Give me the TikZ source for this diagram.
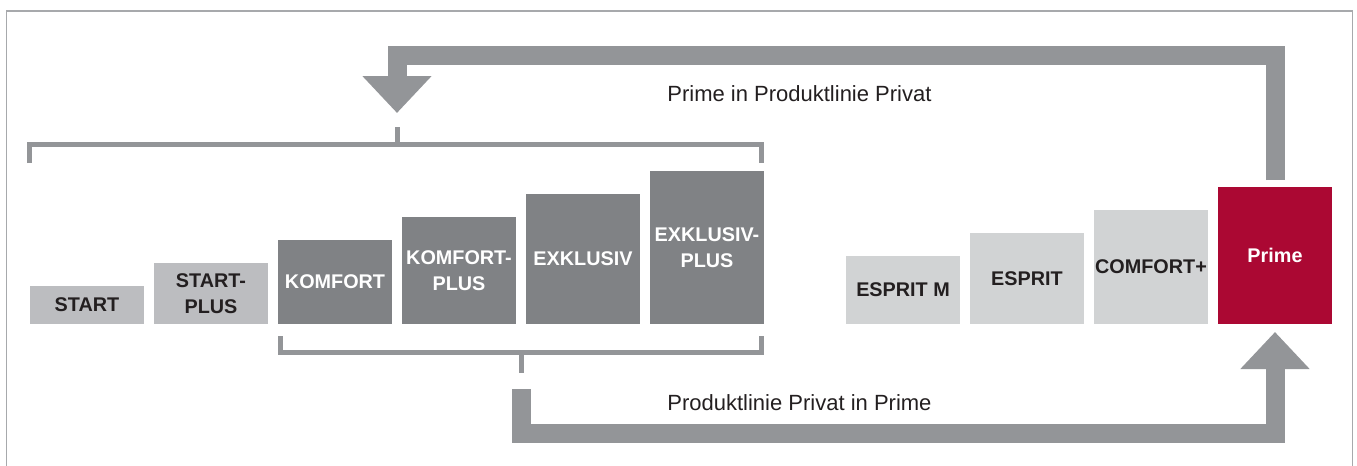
\documentclass[tikz,border=0pt]{standalone}
\usepackage{fontspec}
\setmainfont{Liberation Sans}
\usetikzlibrary{arrows.meta}

\definecolor{pfeilgrau}{RGB}{147,149,152}
\definecolor{rahmengrau}{RGB}{167,169,172}
\definecolor{hellgrau}{RGB}{188,189,192}
\definecolor{dunkelgrau}{RGB}{128,130,133}
\definecolor{blassgrau}{RGB}{209,211,212}
\definecolor{primerot}{RGB}{171,8,51}
\definecolor{schrift}{RGB}{35,31,32}

\begin{document}
\begin{tikzpicture}[x=0.5pt, y=-0.5pt,
    tarif/.style={anchor=south west, minimum width=57pt, inner sep=0pt, outer sep=0pt,
      align=center, font=\bfseries\fontsize{9.9}{13.2}\selectfont},
    hell/.style={tarif, fill=hellgrau, text=schrift},
    dunkel/.style={tarif, fill=dunkelgrau, text=white},
    blass/.style={tarif, fill=blassgrau, text=schrift},
    klammer/.style={draw=pfeilgrau, line width=2.5pt},
    pfeil/.style={draw=pfeilgrau, line width=9.5pt, -{Triangle[length=18.5pt, width=33.5pt]}},
    beschriftung/.style={anchor=base west, inner sep=0pt, text=schrift,
      font=\fontsize{11}{13}\selectfont}]
  \useasboundingbox (0,0) rectangle (1357,466);
  \draw[rahmengrau, line width=0.6pt] (6.5,470) |- (1352.5,11) -- (1352.5,470);

  % Produktlinie Privat
  \node[hell, minimum height=19pt] (start) at (30,324) {START};
  \node[hell, minimum height=30.5pt] (startplus) at (154,324) {START-\\PLUS};
  \node[dunkel, minimum height=42pt] (komfort) at (278,324) {KOMFORT};
  \node[dunkel, minimum height=53.5pt] (komfortplus) at (402,324) {KOMFORT-\\PLUS};
  \node[dunkel, minimum height=65pt] (exklusiv) at (526,324) {EXKLUSIV};
  \node[dunkel, minimum height=76.5pt] (exklusivplus) at (650,324) {EXKLUSIV-\\PLUS};

  % Tarife rechts
  \node[blass, minimum height=34pt] (espritm) at (846,324) {ESPRIT M};
  \node[blass, minimum height=45.5pt] (esprit) at (970,324) {ESPRIT};
  \node[blass, minimum height=57pt] (comfortplus) at (1094,324) {COMFORT+};
  \node[tarif, fill=primerot, text=white, minimum height=68.5pt] (prime) at (1218,324) {Prime};

  % Klammern
  \draw[klammer] (29.5,163) |- (761.5,144.5) -- (761.5,163);
  \draw[klammer] (397,144.5) -- (397,127) coordinate (oben);
  \draw[klammer] (280.5,336) |- (761.5,352.5) -- (761.5,336);
  \draw[klammer] (521,352.5) -- (521,373) coordinate (unten);

  \draw[pfeil] ([yshift=3.5pt]prime.north) -- ++(0,-124.5) -| ([yshift=7pt]oben);
  \draw[pfeil] ([yshift=-8pt]unten) -- ++(0,44.5) -| ([yshift=-4pt]prime.south);

  \node[beschriftung] (obentext) at (667,101) {Prime in Produktlinie Privat};
  \node[beschriftung] (untentext) at (667,410) {Produktlinie Privat in Prime};
\end{tikzpicture}
\end{document}
